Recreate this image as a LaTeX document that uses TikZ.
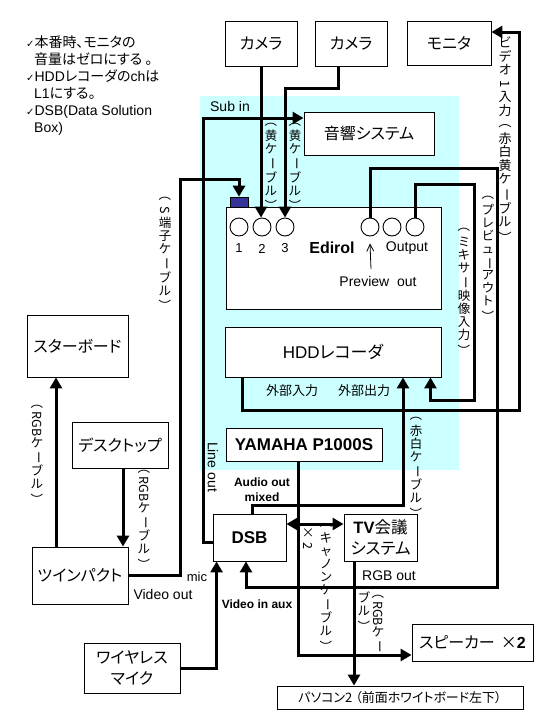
\documentclass[tikz,border=0pt]{standalone}
\usepackage{fontspec}
\usepackage{graphicx}
\usetikzlibrary{arrows.meta,positioning,calc}
\setmainfont{Noto Sans CJK JP}[RawFeature=+palt]
\newfontfamily\latfont{Liberation Sans}
\newfontfamily\dingfont{DejaVu Sans}
\definecolor{bgcyan}{RGB}{204,255,255}
\definecolor{portblue}{RGB}{51,51,153}
\newcommand{\rotch}[1]{\rotatebox[origin=c]{-90}{#1}}

\begin{document}
\begin{tikzpicture}[x=1pt, y=-1pt,
    unit/.style={draw, line width=0.9pt, fill=white, inner sep=0pt, align=center, font=\fontsize{16}{21}\selectfont},
    jack/.style={circle, draw, line width=0.9pt, fill=white, minimum size=18pt, inner sep=0pt},
    wire/.style={line width=3pt},
    arrowend/.style={-{Triangle[length=11pt,width=12pt]}},
    lab/.style={inner sep=0pt, font=\latfont\fontsize{14}{16}\selectfont},
    blab/.style={inner sep=0pt, align=center, font=\latfont\bfseries\fontsize{12}{15}\selectfont},
    jlab/.style={inner sep=0pt, font=\fontsize{13}{16}\selectfont},
    vlab/.style={inner sep=0pt, align=center, font=\fontsize{12.5}{13}\selectfont}
]
    \useasboundingbox (0,0) rectangle (540,720);
    \fill[bgcyan] (200,96) rectangle (459,470);

    % notes
    \node[jlab, align=left, anchor=north west, font=\fontsize{14}{17}\selectfont] (notes) at (26,36)
        {{\dingfont\fontsize{10}{17}\selectfont ✓}本番時、モニタの\\
         \hspace{8pt}音量はゼロにする 。\\
         {\dingfont\fontsize{10}{17}\selectfont ✓}{\latfont HDD}レコーダの{\latfont ch}は\\
         \hspace{8pt}{\latfont L1}にする。\\
         {\dingfont\fontsize{10}{17}\selectfont ✓}{\latfont DSB(Data Solution}\\
         \hspace{8pt}{\latfont Box)}};

    % equipment
    \node[unit, minimum width=72pt, minimum height=45pt] (cam1) at (261,43.5) {カメラ};
    \node[unit, minimum width=72pt, minimum height=45pt] (cam2) at (351,43.5) {カメラ};
    \node[unit, minimum width=84pt, minimum height=44pt] (monitor) at (449,43) {モニタ};
    \node[unit, minimum width=130pt, minimum height=43pt] (audio) at (369,133.5) {音響システム};
    \node[unit, minimum width=215pt, minimum height=102pt] (edirol) at (333.5,258) {};
    \node[fill=portblue, draw=black, line width=0.6pt, minimum width=18pt, minimum height=10pt, inner sep=0pt] (port) at (239,202) {};
    \node[unit, minimum width=216pt, minimum height=50pt, font=\fontsize{17}{21}\selectfont] (hdd) at (333,352) {{\latfont HDD}レコーダ};
    \node[unit, minimum width=156pt, minimum height=33pt, font=\latfont\bfseries\fontsize{17}{20}\selectfont] (yamaha) at (304,444.5) {YAMAHA P1000S};
    \node[unit, minimum width=73pt, minimum height=47pt, font=\latfont\bfseries\fontsize{17}{20}\selectfont] (dsb) at (249.5,537.5) {DSB};
    \node[unit, minimum width=73pt, minimum height=47pt, font=\fontsize{16.5}{21}\selectfont] (tv) at (380.5,537.5) {{\latfont\bfseries TV}会議\\システム};
    \node[unit, minimum width=101pt, minimum height=62pt] (starboard) at (77.5,346) {スターボード};
    \node[unit, minimum width=96pt, minimum height=46pt] (desktop) at (120,445) {デスクトップ};
    \node[unit, minimum width=96pt, minimum height=57pt] (twin) at (80,575.5) {ツインパクト};
    \node[unit, minimum width=96pt, minimum height=50pt] (wmic) at (132,668) {ワイヤレス\\マイク};
    \node[unit, minimum width=121pt, minimum height=37pt] (speaker) at (472.5,642.5) {スピーカー\hspace{6pt}×{\latfont\bfseries 2}};
    \node[unit, minimum width=246pt, minimum height=23pt, font=\fontsize{13}{16}\selectfont] (pc) at (400,697.5) {パソコン2 （前面ホワイトボード左下）};

    % Edirol jacks and labels
    \foreach \n/\x in {c1/239, c2/262, c3/285, o1/370, o2/392, o3/415}
        \node[jack] (\n) at (\x,227) {};
    \foreach \n/\x in {1/239, 2/262, 3/285}
        \node[lab, font=\latfont\fontsize{13}{15}\selectfont] at (\x,248.5) {\n};
    \node[lab, font=\latfont\bfseries\fontsize{16}{18}\selectfont] (ediname) at (332,248) {Edirol};
    \node[lab] (outlab) at (407,248) {Output};
    \node[lab] (preview) at (378,281) {Preview\ \ out};
    \draw[line width=0.8pt, -{Straight Barb[length=7pt,width=7pt]}] ([xshift=-7pt,yshift=6.5pt]preview.north) -- ([yshift=-7pt]o1.south);

    % cameras into the Edirol
    \draw[wire, arrowend] (cam1.south) -- (cam1.south |- c2.north);
    \coordinate (cam2bend) at (338,88);
    \draw[wire, arrowend] ([xshift=-13pt]cam2.south) -- (cam2bend) -| (c3.north);

    % line out to the sound system
    \coordinate (subin) at (203,118);
    \draw[wire, arrowend] ([yshift=-4.5pt]dsb.west) -| (subin) -- (subin -| audio.west);

    % S-video from the Twinpact
    \coordinate (sbend) at (180,179);
    \draw[wire, arrowend] (twin.east) -| (sbend) -| (port.north);

    % RGB cables on the left
    \coordinate (twinrgb) at ([xshift=-24pt]twin.north);
    \draw[wire, arrowend] (twinrgb) -- (twinrgb |- starboard.south);
    \coordinate (deskrgb) at ([xshift=3pt]desktop.south);
    \draw[wire, arrowend] (deskrgb) -- (deskrgb |- twin.north);

    % wireless mic
    \draw[wire, arrowend] (wmic.east) -| ([xshift=4pt]dsb.south west);

    % YAMAHA to the speakers
    \draw[wire, arrowend] ([xshift=-6pt]yamaha.south) |- ([yshift=-12.5pt]speaker.west);

    % DSB and TV conference
    \draw[wire, {Triangle[length=11pt,width=12pt]}-{Triangle[length=11pt,width=12pt]}] ([yshift=13.5pt]dsb.east) -- ([yshift=13.5pt]tv.west);
    \coordinate (tvrgb) at ([xshift=-26.5pt]tv.south);
    \draw[wire, arrowend] (tvrgb) -- (tvrgb |- pc.north);

    % preview out to video in aux
    \coordinate (pvtop) at (497,168);
    \coordinate (pvbot) at (497,587);
    \draw[wire, arrowend] (o1.north) |- (pvtop) -- (pvbot) -| ([xshift=-3.5pt]dsb.south);

    % mixer output to the HDD
    \coordinate (mxtop) at (474,184);
    \coordinate (mxbot) at (474,400);
    \draw[wire, arrowend] (o3.north) |- (mxtop) -- (mxbot) -| ([xshift=-11pt]hdd.south east);

    % HDD to the monitor
    \coordinate (monbot) at (519,410);
    \draw[wire, arrowend] ([xshift=18pt]hdd.south west) |- (monbot) |- ([yshift=11pt]monitor.east);

    % audio out mixed to the HDD
    \coordinate (rwbend) at (403,505);
    \draw[wire, arrowend] ([xshift=2.5pt]dsb.north) |- (rwbend) -- (rwbend |- hdd.south);

    % port labels
    \node[lab] at (230,106) {Sub in};
    \node[lab, rotate=-90] at (213,467) {Line out};
    \node[blab] at (262,490) {Audio out\\mixed};
    \node[lab, font=\latfont\fontsize{13}{15}\selectfont] at (197,577) {mic};
    \node[lab] at (163,594) {Video out};
    \node[blab] at (257,604) {Video in aux};
    \node[lab] at (389,576) {RGB out};
    \node[jlab] at (292,391) {外部入力};
    \node[jlab] at (364,391) {外部出力};

    % cable labels
    \node[vlab] at (271,164) {\rotch{（}\\黄\\ケ\\\rotch{ー}\\ブ\\ル\\\rotch{）}};
    \node[vlab] at (295,164) {\rotch{（}\\黄\\ケ\\\rotch{ー}\\ブ\\ル\\\rotch{）}};
    \node[vlab] at (165,251) {\rotch{（}\\\rotch{S}\\端\\子\\ケ\\\rotch{ー}\\ブ\\ル\\\rotch{）}};
    \node[vlab] at (37,452) {\rotch{（}\\\rotch{RGB}\\ケ\\\rotch{ー}\\ブ\\ル\\\rotch{）}};
    \node[vlab] at (144,517) {\rotch{（}\\\rotch{RGB}\\ケ\\\rotch{ー}\\ブ\\ル\\\rotch{）}};
    \node[vlab] at (416,465) {\rotch{（}\\赤\\白\\ケ\\\rotch{ー}\\ブ\\ル\\\rotch{）}};
    \node[vlab] at (464,289) {\rotch{（}\\ミ\\キ\\サ\\\rotch{ー}\\映\\像\\入\\力\\\rotch{）}};
    \node[vlab] at (488,256) {\rotch{（}\\プ\\レ\\ビ\\ュ\\\rotch{ー}\\ア\\ウ\\ト\\\rotch{）}};
    \node[vlab, anchor=north, font=\fontsize{13}{13.5}\selectfont] at (505,37) {ビ\\デ\\オ\\\rotch{1}\\入\\力\\[1pt]\rotch{（}\\赤\\白\\黄\\ケ\\\rotch{ー}\\ブ\\ル\\\rotch{）}};
    \node[vlab] at (308,540) {×\\\rotch{2}};
    \node[vlab] at (326,585) {\rotch{（}\\キ\\ャ\\ノ\\ン\\ケ\\\rotch{ー}\\ブ\\ル\\\rotch{）}};
    \node[vlab, anchor=north] at (378,592) {\rotch{（}\\\rotch{RGB}\\ケ\\\rotch{ー}};
    \node[vlab, anchor=north] at (364,592) {ブ\\ル\\\rotch{）}};
\end{tikzpicture}
\end{document}
